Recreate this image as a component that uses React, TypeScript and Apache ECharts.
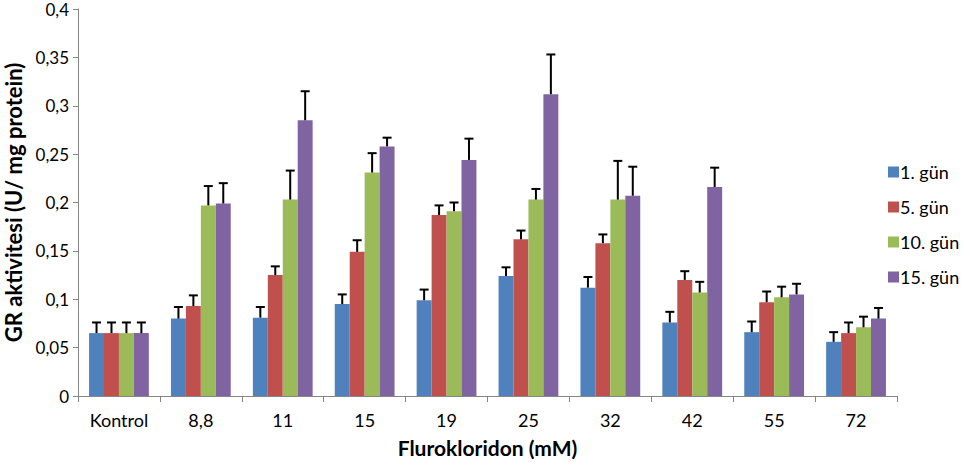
import React, { useEffect, useRef } from "react";
import * as echarts from "echarts";

const categories = ["Kontrol", "8,8", "11", "15", "19", "25", "32", "42", "55", "72"];
const seriesNames = ["1. gün", "5. gün", "10. gün", "15. gün"];
const colors = ["#4F81BD", "#C0504D", "#9BBB59", "#8064A2"];

const gun1 = [0.065, 0.080, 0.081, 0.095, 0.099, 0.124, 0.112, 0.076, 0.066, 0.056];
const gun5 = [0.065, 0.093, 0.125, 0.149, 0.187, 0.162, 0.158, 0.120, 0.097, 0.065];
const gun10 = [0.065, 0.197, 0.203, 0.231, 0.191, 0.203, 0.203, 0.107, 0.102, 0.071];
const gun15 = [0.065, 0.199, 0.285, 0.258, 0.244, 0.312, 0.207, 0.216, 0.105, 0.080];

const err1 = [0.011, 0.012, 0.011, 0.010, 0.011, 0.009, 0.011, 0.011, 0.011, 0.010];
const err5 = [0.011, 0.011, 0.009, 0.012, 0.010, 0.009, 0.009, 0.009, 0.011, 0.011];
const err10 = [0.011, 0.020, 0.030, 0.020, 0.009, 0.011, 0.040, 0.011, 0.011, 0.011];
const err15 = [0.011, 0.021, 0.030, 0.009, 0.022, 0.041, 0.030, 0.020, 0.011, 0.011];

const values = [gun1, gun5, gun10, gun15];
const errors = [err1, err5, err10, err15];

const CAT_GAP = 0.27;
const FONT = "Lato, 'Open Sans', sans-serif";

export default function App() {
  const ref = useRef<HTMLDivElement>(null);
  useEffect(() => {
    if (!ref.current) return;
    const chart = echarts.init(ref.current, null, { renderer: "svg" });

    const barSeries = values.map((vals, i) => ({
      name: seriesNames[i],
      type: "bar",
      data: vals,
      barGap: "0%",
      barCategoryGap: (CAT_GAP * 100) + "%",
      itemStyle: { color: colors[i] },
      z: 2,
    }));

    const errSeries = values.map((vals, i) => ({
      name: "err" + i,
      type: "custom",
      z: 5,
      data: vals.map((v, k) => [k, v, errors[i][k]]),
      encode: { x: 0, y: 1 },
      renderItem: (params: any, api: any) => {
        const cat = api.value(0);
        const v = api.value(1);
        const e = api.value(2);
        const base = api.coord([cat, v]);
        const top = api.coord([cat, v + e]);
        const bandW = api.size([1, 0])[0];
        const barW = (bandW * (1 - CAT_GAP)) / 4;
        const cx = base[0] + (i - 1.5) * barW;
        const style = { stroke: "#000", lineWidth: 2 };
        return {
          type: "group",
          children: [
            { type: "line", shape: { x1: cx, y1: base[1], x2: cx, y2: top[1] }, style },
            { type: "line", shape: { x1: cx - 4.5, y1: top[1], x2: cx + 4.5, y2: top[1] }, style },
          ],
        };
      },
    }));

    chart.setOption({
      animation: false,
      grid: { left: 78, right: 68, top: 9, bottom: 66, outerBoundsMode: "none", containLabel: false },
      legend: {
        data: seriesNames,
        orient: "vertical",
        left: 883,
        top: 158,
        itemWidth: 11,
        itemHeight: 11,
        itemGap: 17,
        icon: "rect",
        textStyle: { fontFamily: FONT, fontSize: 18, color: "#000", padding: [0, 0, 0, -4] },
      },
      xAxis: {
        type: "category",
        data: categories,
        name: "Flurokloridon (mM)",
        nameLocation: "middle",
        nameGap: 41,
        nameTextStyle: { fontFamily: FONT, fontSize: 21, fontWeight: "bold", color: "#000" },
        axisLine: { lineStyle: { color: "#868686", width: 1 } },
        axisTick: { show: true, length: 6, lineStyle: { color: "#868686" } },
        axisLabel: { fontFamily: FONT, fontSize: 18, color: "#000", margin: 15 },
      },
      yAxis: {
        type: "value",
        min: 0,
        max: 0.4,
        interval: 0.05,
        name: "GR aktivitesi (U/ mg protein)",
        nameLocation: "middle",
        nameGap: 50,
        nameTextStyle: { fontFamily: FONT, fontSize: 22, fontWeight: "bold", color: "#000" },
        axisLine: { show: true, lineStyle: { color: "#868686", width: 1 } },
        axisTick: { show: true, length: 5, lineStyle: { color: "#868686" } },
        splitLine: { show: false },
        axisLabel: {
          fontFamily: FONT,
          fontSize: 17,
          color: "#000",
          margin: 9,
          formatter: (v: number) => String(Math.round(v * 100) / 100).replace(".", ","),
        },
      },
      series: [...barSeries, ...errSeries],
    });
    return () => chart.dispose();
  }, []);
  return <div ref={ref} style={{ width: 965, height: 462, position: "absolute", left: 0, top: 0 }} />;
}
